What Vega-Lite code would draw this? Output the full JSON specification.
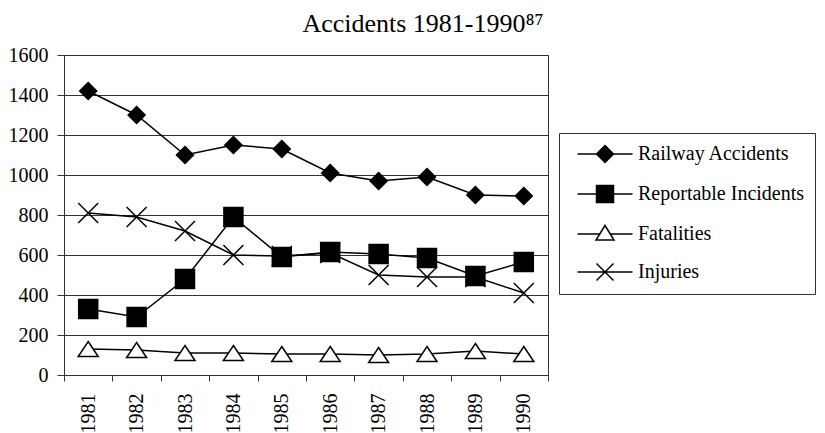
{
  "$schema": "https://vega.github.io/schema/vega-lite/v6.json",
  "width": 484,
  "height": 320,
  "autosize": "none",
  "padding": {"left": 64, "top": 55, "right": 277, "bottom": 58},
  "background": "white",
  "title": {
    "text": "Accidents 1981-1990⁸⁷",
    "font": "Liberation Serif",
    "fontSize": 26,
    "fontWeight": "normal",
    "color": "black",
    "anchor": "middle",
    "frame": "group",
    "dx": 117,
    "offset": 8
  },
  "data": {
    "values": [
      {"year": "1981", "series": "Railway Accidents", "value": 1420},
      {"year": "1982", "series": "Railway Accidents", "value": 1300},
      {"year": "1983", "series": "Railway Accidents", "value": 1100},
      {"year": "1984", "series": "Railway Accidents", "value": 1150},
      {"year": "1985", "series": "Railway Accidents", "value": 1130},
      {"year": "1986", "series": "Railway Accidents", "value": 1010},
      {"year": "1987", "series": "Railway Accidents", "value": 970},
      {"year": "1988", "series": "Railway Accidents", "value": 990},
      {"year": "1989", "series": "Railway Accidents", "value": 900},
      {"year": "1990", "series": "Railway Accidents", "value": 895},
      {"year": "1981", "series": "Reportable Incidents", "value": 330},
      {"year": "1982", "series": "Reportable Incidents", "value": 290},
      {"year": "1983", "series": "Reportable Incidents", "value": 480},
      {"year": "1984", "series": "Reportable Incidents", "value": 790},
      {"year": "1985", "series": "Reportable Incidents", "value": 590},
      {"year": "1986", "series": "Reportable Incidents", "value": 615},
      {"year": "1987", "series": "Reportable Incidents", "value": 605},
      {"year": "1988", "series": "Reportable Incidents", "value": 585},
      {"year": "1989", "series": "Reportable Incidents", "value": 495},
      {"year": "1990", "series": "Reportable Incidents", "value": 565},
      {"year": "1981", "series": "Fatalities", "value": 130},
      {"year": "1982", "series": "Fatalities", "value": 125},
      {"year": "1983", "series": "Fatalities", "value": 110},
      {"year": "1984", "series": "Fatalities", "value": 110},
      {"year": "1985", "series": "Fatalities", "value": 105},
      {"year": "1986", "series": "Fatalities", "value": 105},
      {"year": "1987", "series": "Fatalities", "value": 100},
      {"year": "1988", "series": "Fatalities", "value": 105},
      {"year": "1989", "series": "Fatalities", "value": 120},
      {"year": "1990", "series": "Fatalities", "value": 105},
      {"year": "1981", "series": "Injuries", "value": 810},
      {"year": "1982", "series": "Injuries", "value": 790},
      {"year": "1983", "series": "Injuries", "value": 720},
      {"year": "1984", "series": "Injuries", "value": 600},
      {"year": "1985", "series": "Injuries", "value": 595},
      {"year": "1986", "series": "Injuries", "value": 610},
      {"year": "1987", "series": "Injuries", "value": 500},
      {"year": "1988", "series": "Injuries", "value": 490},
      {"year": "1989", "series": "Injuries", "value": 490},
      {"year": "1990", "series": "Injuries", "value": 410}
    ]
  },
  "encoding": {
    "x": {
      "field": "year",
      "type": "ordinal",
      "scale": {"type": "band", "paddingInner": 0, "paddingOuter": 0},
      "axis": {
        "title": null,
        "labelAngle": -90,
        "tickBand": "extent",
        "tickSize": 6,
        "labelPadding": 12,
        "labelFont": "Liberation Serif",
        "labelFontSize": 20,
        "labelColor": "black",
        "domainColor": "#333",
        "tickColor": "#333",
        "grid": false
      }
    },
    "y": {
      "field": "value",
      "type": "quantitative",
      "scale": {"domain": [0, 1600], "nice": false},
      "axis": {
        "title": null,
        "format": "d",
        "values": [0, 200, 400, 600, 800, 1000, 1200, 1400, 1600],
        "tickSize": 7,
        "labelPadding": 9,
        "labelFont": "Liberation Serif",
        "labelFontSize": 20,
        "labelColor": "black",
        "domainColor": "#333",
        "tickColor": "#333",
        "grid": true,
        "gridColor": "#333",
        "gridWidth": 1,
        "gridOpacity": 1
      }
    }
  },
  "layer": [
    {
      "mark": {"type": "line", "stroke": "black", "strokeWidth": 1.5},
      "encoding": {"detail": {"field": "series"}}
    },
    {
      "mark": {"type": "point", "stroke": "black", "strokeWidth": 1.5, "opacity": 1, "size": 400},
      "encoding": {
        "shape": {
          "field": "series",
          "scale": {
            "domain": ["Railway Accidents", "Reportable Incidents", "Fatalities", "Injuries"],
            "range": [
              "M0,-0.85L0.85,0L0,0.85L-0.85,0Z",
              "M-0.95,-0.95H0.95V0.95H-0.95Z",
              "M0,-0.75L1,0.75L-1,0.75Z",
              "M-1,-1L1,1M-1,1L1,-1"
            ]
          },
          "legend": null
        },
        "fill": {
          "field": "series",
          "scale": {
            "domain": ["Railway Accidents", "Reportable Incidents", "Fatalities", "Injuries"],
            "range": ["black", "black", "white", "transparent"]
          },
          "legend": null
        }
      }
    },
    {
      "mark": {"type": "point", "strokeWidth": 1.5, "opacity": 0, "size": 400, "filled": false},
      "encoding": {
        "stroke": {
          "field": "series",
          "title": null,
          "scale": {
            "domain": ["Railway Accidents", "Reportable Incidents", "Fatalities", "Injuries"],
            "range": ["black", "black", "black", "black"]
          },
          "legend": {
            "title": null,
            "orient": "none",
            "legendX": 495,
            "legendY": 78,
            "padding": 10,
            "strokeColor": "#333",
            "fillColor": "white",
            "symbolOffset": 25,
            "labelOffset": 22,
            "rowPadding": 16,
            "symbolSize": 400,
            "labelFont": "Liberation Serif",
            "labelFontSize": 20,
            "labelLimit": 260,
            "labelColor": "black",
            "symbolOpacity": 1,
            "symbolStrokeWidth": 1.5
          }
        },
        "fill": {
          "field": "series",
          "title": null,
          "scale": {
            "domain": ["Railway Accidents", "Reportable Incidents", "Fatalities", "Injuries"],
            "range": ["black", "black", "white", "transparent"]
          },
          "legend": {
            "title": null,
            "orient": "none",
            "legendX": 495,
            "legendY": 78,
            "padding": 10,
            "strokeColor": "#333",
            "fillColor": "white",
            "symbolOffset": 25,
            "labelOffset": 22,
            "rowPadding": 16,
            "symbolSize": 400,
            "labelFont": "Liberation Serif",
            "labelFontSize": 20,
            "labelLimit": 260,
            "labelColor": "black",
            "symbolOpacity": 1,
            "symbolStrokeWidth": 1.5
          }
        },
        "shape": {
          "field": "series",
          "title": null,
          "scale": {
            "domain": ["Railway Accidents", "Reportable Incidents", "Fatalities", "Injuries"],
            "range": [
              "M-2.75,0H2.75M0,-0.85L0.85,0L0,0.85L-0.85,0Z",
              "M-2.75,0H2.75M-0.85,-0.85H0.85V0.85H-0.85Z",
              "M-2.75,0H-0.5M0.5,0H2.75M0,-0.85L0.9,0.6L-0.9,0.6Z",
              "M-2.75,0H2.75M-0.85,-0.85L0.85,0.85M-0.85,0.85L0.85,-0.85"
            ]
          },
          "legend": {
            "title": null,
            "orient": "none",
            "legendX": 495,
            "legendY": 78,
            "padding": 10,
            "strokeColor": "#333",
            "fillColor": "white",
            "symbolOffset": 25,
            "labelOffset": 22,
            "rowPadding": 16,
            "symbolSize": 400,
            "labelFont": "Liberation Serif",
            "labelFontSize": 20,
            "labelLimit": 260,
            "labelColor": "black",
            "symbolOpacity": 1,
            "symbolStrokeWidth": 1.5
          }
        }
      }
    }
  ],
  "resolve": {
    "scale": {"shape": "independent", "fill": "independent", "stroke": "independent"},
    "legend": {"shape": "independent", "fill": "independent", "stroke": "independent"}
  },
  "config": {
    "view": {"stroke": "#333", "strokeWidth": 1},
    "axis": {"domainWidth": 1, "tickWidth": 1}
  }
}
